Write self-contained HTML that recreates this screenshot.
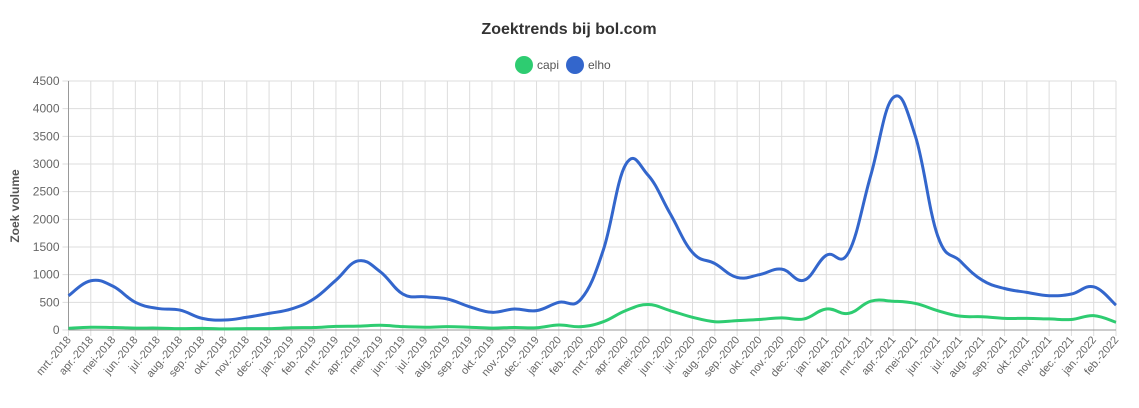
<!DOCTYPE html>
<html><head><meta charset="utf-8"><style>
body{margin:0;background:#fff;font-family:"Liberation Sans",sans-serif;}
</style></head><body>
<svg id="c" width="1139" height="403" xmlns="http://www.w3.org/2000/svg" font-family="Liberation Sans, sans-serif"></svg>
<script>
const svg=document.getElementById('c');
const L=68.5,R=1116,T=81,B=330;
const months=["mrt.","apr.","mei","jun.","jul.","aug.","sep.","okt.","nov.","dec.","jan.","feb."];
const labels=[];for(let i=0;i<48;i++){const m=i%12;const y=2018+Math.floor((i+2)/12);labels.push(months[m]+"-"+y);}
const elho=[620,890,790,500,390,360,210,180,230,300,380,560,900,1250,1050,650,600,560,420,320,380,350,500,560,1450,2990,2800,2100,1400,1200,950,1000,1100,900,1350,1400,2800,4200,3500,1700,1250,900,750,680,620,650,780,450];
const capi=[30,50,45,35,35,25,30,20,25,25,40,45,65,70,85,60,50,60,50,35,45,40,90,60,150,350,460,350,230,150,170,190,220,200,380,300,520,520,480,350,250,240,210,210,200,190,260,140];
const dx=(R-L)/47;const X=i=>L+i*dx;const Y=v=>B-(v/4500)*(B-T);
let h='';
h+='<text x="569" y="34" text-anchor="middle" font-size="16" font-weight="bold" fill="#333">Zoektrends bij bol.com</text>';
h+='<circle cx="524" cy="65" r="9" fill="#2ecc71"/><text x="537" y="69" font-size="12" fill="#555">capi</text>';
h+='<circle cx="575" cy="65" r="9" fill="#3366cc"/><text x="588" y="69" font-size="12" fill="#555">elho</text>';
for(let v=0;v<=4500;v+=500){const y=Y(v);h+=`<line x1="${L-6}" x2="${R}" y1="${y}" y2="${y}" stroke="#ddd"/>`;h+=`<text x="${L-9}" y="${y+4}" text-anchor="end" font-size="12" fill="#666">${v}</text>`;}
for(let i=0;i<48;i++){const x=X(i);h+=`<line x1="${x}" x2="${x}" y1="${T}" y2="${B+6}" stroke="#ddd"/>`;h+=`<text transform="translate(${x+3},${B+10}) rotate(-50)" text-anchor="end" font-size="11" fill="#666">${labels[i]}</text>`;}
h+=`<line x1="${L}" x2="${L}" y1="${T}" y2="${B}" stroke="#999"/><line x1="${L}" x2="${R}" y1="${B}" y2="${B}" stroke="#999"/>`;
h+=`<text transform="translate(19,206) rotate(-90)" text-anchor="middle" font-size="12" font-weight="bold" fill="#555">Zoek volume</text>`;
function path(d){const p=d.map((v,i)=>[X(i),Y(v)]);let s=`M${p[0][0]},${p[0][1]}`;const t=0.4;
for(let i=0;i<p.length-1;i++){const p0=p[Math.max(0,i-1)],p1=p[i],p2=p[i+1],p3=p[Math.min(p.length-1,i+2)];
const c1=[p1[0]+(p2[0]-p0[0])*t/2,p1[1]+(p2[1]-p0[1])*t/2],c2=[p2[0]-(p3[0]-p1[0])*t/2,p2[1]-(p3[1]-p1[1])*t/2];
s+=`C${c1[0]},${c1[1]} ${c2[0]},${c2[1]} ${p2[0]},${p2[1]}`;}return s;}
h+=`<path d="${path(capi)}" fill="none" stroke="#2ecc71" stroke-width="3"/>`;
h+=`<path d="${path(elho)}" fill="none" stroke="#3366cc" stroke-width="3"/>`;
svg.innerHTML=h;
</script>
</body></html>
